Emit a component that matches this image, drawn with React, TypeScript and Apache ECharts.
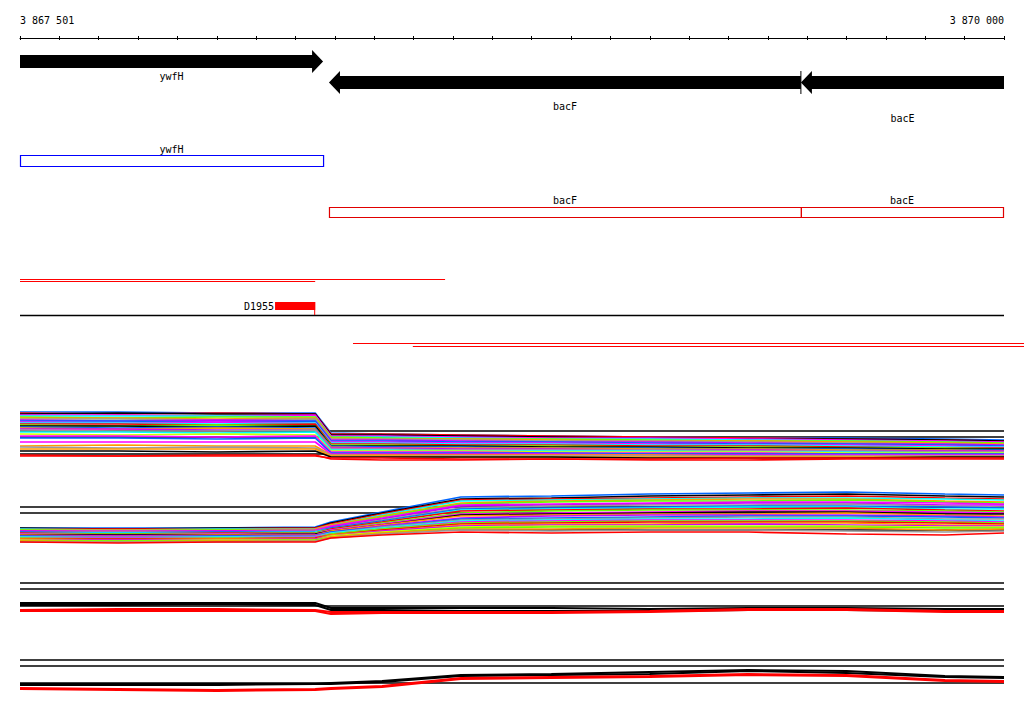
import React, { useEffect, useRef } from 'react';
import * as echarts from 'echarts';

// ---------- data ----------
const rangeStart = 3867500;
const rangeEnd = 3870000;
const tickStep = 100;
const rulerLabels = ['3 867 501', '3 870 000'];

const geneNames = ['ywfH', 'bacF', 'bacE'];
const geneStarts = [3867460, 3868285, 3869484];
const geneEnds = [3868270, 3869484, 3870150];
const geneStrands = [1, -1, -1];

const readStarts = [3867500, 3867500, 3868346, 3868498];
const readEnds = [3868580, 3868250, 3870051, 3870051];

const motifNames = ['D1955'];
const motifStarts = [3868148];
const motifEnds = [3868250];

const profilePositions = [3867500, 3867750, 3868000, 3868250, 3868290, 3868420, 3868620, 3868850, 3869100, 3869350, 3869600, 3869850, 3870000];
const refLevels = [45, 39, 22];

const panel1Profiles = [
  [64, 64, 63, 63, 43, 42, 41, 40, 39, 38, 38, 37, 36],
  [63, 62, 63, 62, 42, 42, 41, 40, 39, 38, 37, 36, 35],
  [62, 63, 62, 62, 41, 41, 40, 39, 38, 37, 37, 36, 35],
  [61, 61, 60, 61, 40, 40, 39, 38, 38, 37, 36, 35, 34],
  [60, 60, 60, 59, 39, 39, 38, 37, 37, 36, 35, 34, 33],
  [59, 58, 59, 59, 39, 38, 37, 37, 36, 35, 35, 34, 33],
  [58, 58, 57, 58, 38, 37, 37, 36, 35, 35, 34, 33, 32],
  [57, 57, 56, 57, 37, 37, 36, 35, 35, 34, 33, 32, 31],
  [56, 55, 56, 55, 36, 36, 35, 34, 34, 33, 32, 32, 31],
  [55, 55, 54, 55, 35, 35, 34, 34, 33, 32, 32, 31, 30],
  [54, 53, 54, 53, 34, 34, 33, 33, 32, 31, 31, 30, 29],
  [53, 53, 52, 53, 33, 33, 32, 32, 31, 31, 30, 29, 29],
  [52, 52, 51, 52, 32, 32, 31, 31, 30, 30, 29, 28, 28],
  [51, 50, 51, 50, 31, 31, 30, 30, 29, 29, 28, 28, 27],
  [50, 50, 49, 50, 30, 30, 30, 29, 29, 28, 28, 27, 27],
  [49, 48, 49, 48, 30, 29, 29, 28, 28, 27, 27, 26, 26],
  [48, 47, 48, 47, 29, 28, 28, 28, 27, 27, 26, 26, 25],
  [47, 47, 46, 46, 28, 28, 27, 27, 26, 26, 25, 25, 25],
  [46, 45, 45, 46, 27, 27, 26, 26, 26, 25, 25, 24, 24],
  [44, 44, 43, 44, 26, 26, 25, 25, 25, 24, 24, 23, 23],
  [42, 41, 42, 41, 25, 25, 25, 24, 24, 24, 23, 23, 23],
  [40, 40, 39, 40, 24, 24, 24, 23, 23, 23, 22, 22, 22],
  [38, 38, 37, 38, 23, 23, 23, 23, 22, 22, 22, 22, 22],
  [34, 34, 34, 34, 22, 22, 22, 22, 21, 21, 21, 21, 21],
  [30, 31, 30, 30, 21, 21, 21, 21, 21, 20, 20, 20, 20],
  [29, 28, 29, 28, 21, 20, 20, 20, 20, 20, 20, 20, 20],
  [27, 27, 27, 27, 20, 20, 19, 19, 19, 19, 19, 19, 19],
  [25, 25, 24, 25, 19, 19, 19, 19, 18, 18, 18, 19, 19],
  [21, 20, 20, 20, 18, 18, 17, 17, 17, 18, 18, 18, 18],
  [20, 20, 21, 21, 17, 16, 16, 17, 16, 16, 17, 17, 17],
];

const panel2Profiles = [
  [24, 24, 24, 25, 30, 40, 55, 56, 58, 59, 60, 58, 57],
  [24, 23, 24, 24, 29, 39, 53, 54, 56, 57, 58, 56, 55],
  [23, 23, 23, 24, 28, 38, 52, 53, 54, 55, 56, 54, 53],
  [23, 22, 23, 23, 27, 37, 51, 52, 53, 54, 54, 53, 52],
  [22, 22, 22, 23, 27, 36, 49, 51, 52, 53, 53, 51, 50],
  [22, 21, 22, 22, 26, 35, 48, 50, 51, 51, 52, 50, 49],
  [21, 21, 21, 22, 26, 34, 47, 48, 49, 50, 50, 49, 48],
  [21, 20, 21, 21, 25, 33, 46, 47, 48, 49, 49, 47, 47],
  [20, 20, 20, 21, 24, 32, 44, 46, 47, 47, 48, 46, 45],
  [20, 19, 20, 20, 24, 31, 43, 44, 45, 46, 46, 45, 44],
  [19, 19, 19, 20, 23, 30, 42, 43, 44, 45, 45, 43, 43],
  [19, 18, 19, 19, 23, 30, 41, 42, 43, 43, 44, 42, 41],
  [18, 18, 18, 19, 22, 29, 39, 41, 42, 42, 42, 41, 40],
  [18, 17, 18, 18, 22, 28, 38, 39, 40, 41, 41, 40, 39],
  [17, 17, 17, 18, 21, 27, 37, 38, 39, 40, 40, 38, 38],
  [17, 16, 17, 17, 21, 27, 36, 37, 38, 38, 39, 37, 36],
  [16, 16, 16, 17, 20, 26, 34, 36, 37, 37, 37, 36, 35],
  [16, 15, 16, 16, 20, 25, 33, 34, 35, 36, 36, 35, 34],
  [15, 15, 15, 16, 19, 25, 32, 33, 34, 35, 35, 33, 33],
  [15, 14, 15, 15, 19, 24, 31, 32, 33, 33, 34, 32, 31],
  [14, 14, 14, 15, 18, 23, 30, 31, 32, 32, 32, 31, 30],
  [14, 13, 14, 14, 18, 23, 29, 30, 31, 31, 31, 30, 29],
  [13, 13, 13, 14, 17, 22, 28, 29, 30, 30, 30, 29, 28],
  [13, 12, 13, 13, 17, 21, 27, 28, 28, 29, 29, 27, 27],
  [12, 12, 12, 13, 16, 21, 26, 27, 27, 28, 27, 26, 26],
  [12, 11, 12, 12, 16, 20, 25, 26, 26, 26, 26, 25, 25],
  [11, 11, 11, 12, 15, 19, 24, 25, 25, 25, 25, 24, 24],
  [11, 10, 11, 11, 15, 19, 23, 23, 24, 24, 24, 22, 23],
  [10, 10, 10, 11, 14, 18, 22, 21, 22, 22, 21, 20, 21],
  [10, 9, 10, 10, 14, 17, 20, 19, 20, 20, 18, 17, 19],
];

const panel3Profiles = [
  [25, 25, 25, 25, 20, 20, 20, 20, 19, 20, 20, 19, 19],
  [23, 23, 24, 23, 18, 18, 17, 17, 17, 18, 18, 17, 18],
  [18, 19, 19, 18, 16, 16, 16, 16, 17, 19, 19, 17, 17],
  [17, 17, 17, 17, 14, 15, 15, 15, 16, 18, 18, 16, 16],
];

const panel4Profiles = [
  [21, 21, 21, 21, 22, 24, 30, 31, 33, 35, 34, 29, 28],
  [20, 20, 20, 21, 21, 23, 29, 30, 31, 34, 32, 28, 27],
  [17, 16, 15, 16, 17, 19, 27, 28, 29, 31, 30, 25, 24],
  [16, 15, 14, 15, 16, 18, 26, 27, 28, 30, 29, 24, 23],
];

// ---------- styles ----------
const BLUE = '#0066ff', RED = '#ff0000', BLACK = '#000000', MAG = '#ff00ff', CYAN = '#00ffff',
  LIME = '#66ff00', ORANGE = '#ff9900', GRAY = '#999999', PURPLE = '#cc00ff', YELLOW = '#ccff00';

const panel1Colors = [BLUE, RED, BLACK, MAG, CYAN, LIME, ORANGE, GRAY, PURPLE, BLUE, MAG, CYAN, RED, LIME, BLACK,
  BLUE, ORANGE, PURPLE, GRAY, CYAN, YELLOW, MAG, BLUE, MAG, ORANGE, GRAY, ORANGE, BLACK, RED, RED];
const panel2Colors = [BLUE, BLACK, RED, CYAN, ORANGE, LIME, MAG, PURPLE, GRAY, BLUE, CYAN, RED, LIME, MAG, BLACK,
  ORANGE, PURPLE, BLUE, GRAY, CYAN, MAG, LIME, RED, ORANGE, PURPLE, YELLOW, LIME, ORANGE, GRAY, RED];
const panel34Colors = [BLACK, BLACK, RED, RED];

const FONT = '10px "DejaVu Sans Mono"';
const L = 20, R = 20;
const PANEL_TOPS = [400, 476, 552, 629];
const PANEL_H = 76;

function clampX(api: any, cs: any, v: number) {
  const x = api.coord([v, 0])[0];
  return Math.min(Math.max(x, cs.x), cs.x + cs.width);
}

function renderGeneArrow(params: any, api: any) {
  const cs = params.coordSys;
  const i = api.value(3);
  const x0 = clampX(api, cs, api.value(0));
  const x1 = clampX(api, cs, api.value(1));
  const fwd = api.value(2) > 0;
  const cy = fwd ? 61.5 : 82.5;
  const hb = 6.5, hh = 11.5, hw = 11;
  const pts = fwd
    ? [[x0, cy - hb], [x1 - hw, cy - hb], [x1 - hw, cy - hh], [x1, cy], [x1 - hw, cy + hh], [x1 - hw, cy + hb], [x0, cy + hb]]
    : [[x1, cy - hb], [x0 + hw, cy - hb], [x0 + hw, cy - hh], [x0, cy], [x0 + hw, cy + hh], [x0 + hw, cy + hb], [x1, cy + hb]];
  const labelY = [76, 106, 118][i];
  const children: any[] = [
    { type: 'polygon', shape: { points: pts }, style: { fill: '#000' } },
    { type: 'text', style: { text: geneNames[i], x: (x0 + x1) / 2, y: labelY, align: 'center', verticalAlign: 'middle', font: FONT, fill: '#000' } },
  ];
  if (!fwd && x1 < cs.x + cs.width - 1) {
    children.push({ type: 'line', shape: { x1: x1, y1: cy - hh, x2: x1, y2: cy + hh }, style: { stroke: '#000', lineWidth: 1 } });
  }
  return { type: 'group', children };
}

function renderGeneBox(params: any, api: any) {
  const cs = params.coordSys;
  const i = api.value(3);
  const x0 = clampX(api, cs, api.value(0));
  const x1 = Math.min(clampX(api, cs, api.value(1)), cs.x + cs.width - 1);
  const fwd = api.value(2) > 0;
  const top = fwd ? 155.5 : 207.5;
  const h = fwd ? 11 : 10;
  const labelY = fwd ? 149 : 200;
  return {
    type: 'group',
    children: [
      { type: 'rect', shape: { x: x0 + 0.5, y: top, width: x1 - x0, height: h }, style: { fill: 'none', stroke: fwd ? '#0000ff' : '#e00000', lineWidth: 1.2 } },
      { type: 'text', style: { text: geneNames[i], x: (x0 + x1) / 2, y: labelY, align: 'center', verticalAlign: 'middle', font: FONT, fill: '#000' } },
    ],
  };
}

function renderRead(params: any, api: any) {
  const i = params.dataIndex;
  const rowY = [279.5, 281.5, 343.5, 346.5][i];
  const x0 = api.coord([api.value(0), 0])[0];
  const x1 = api.coord([api.value(1), 0])[0];
  return { type: 'line', shape: { x1: x0, y1: rowY, x2: x1, y2: rowY }, style: { stroke: RED, lineWidth: 1 } };
}

function renderMotif(params: any, api: any) {
  const cs = params.coordSys;
  const i = params.dataIndex;
  const x0 = api.coord([api.value(0), 0])[0];
  const x1 = api.coord([api.value(1), 0])[0];
  return {
    type: 'group',
    children: [
      { type: 'line', shape: { x1: cs.x, y1: 315.5, x2: cs.x + cs.width, y2: 315.5 }, style: { stroke: '#000', lineWidth: 1.3 } },
      { type: 'rect', shape: { x: x0, y: 302, width: x1 - x0, height: 8 }, style: { fill: RED } },
      { type: 'line', shape: { x1: x1 - 0.5, y1: 302, x2: x1 - 0.5, y2: 315 }, style: { stroke: RED, lineWidth: 1 } },
      { type: 'text', style: { text: motifNames[i], x: x0 - 1, y: 306.5, align: 'right', verticalAlign: 'middle', font: FONT, fill: '#000' } },
    ],
  };
}

function buildOption() {
  const baseX = { type: 'value', min: rangeStart, max: rangeEnd, interval: tickStep, splitLine: { show: false } };
  const grids = [
    { left: L, right: R, top: 38, height: 20 },
    { left: L, right: R, top: 38, height: 20 },
    { left: L, right: R, top: 0, height: 400 },
    ...PANEL_TOPS.map((t) => ({ left: L, right: R, top: t, height: PANEL_H })),
  ].map((g) => ({ ...g, outerBoundsMode: 'none', containLabel: false, show: false }));

  const xAxis: any[] = [
    {
      ...baseX, gridIndex: 0, position: 'top',
      axisLine: { show: true, onZero: false, lineStyle: { color: '#000', width: 1 } },
      axisTick: { show: true, length: 2, lineStyle: { color: '#000', width: 1 } },
      axisLabel: {
        show: true, margin: 13, color: '#000', fontFamily: 'DejaVu Sans Mono', fontSize: 10,
        showMinLabel: true, showMaxLabel: true, alignMinLabel: 'left', alignMaxLabel: 'right',
        formatter: (v: number) => (v === rangeStart ? rulerLabels[0] : v === rangeEnd ? rulerLabels[1] : ''),
      },
    },
    {
      ...baseX, gridIndex: 1, position: 'top',
      axisLine: { show: false, onZero: false },
      axisTick: { show: true, inside: true, length: 2, lineStyle: { color: '#000', width: 1 } },
      axisLabel: { show: false },
    },
    ...[2, 3, 4, 5, 6].map((g) => ({ ...baseX, gridIndex: g, show: false })),
  ];

  const yAxis: any[] = [
    { type: 'value', gridIndex: 0, min: 0, max: 1, show: false },
    { type: 'value', gridIndex: 1, min: 0, max: 1, show: false },
    { type: 'value', gridIndex: 2, min: 0, max: 400, inverse: true, show: false },
    ...[3, 4, 5, 6].map((g) => ({ type: 'value', gridIndex: g, min: 0, max: PANEL_H, show: false })),
  ];

  const series: any[] = [];
  const geneData = geneStarts.map((s, i) => [s, geneEnds[i], geneStrands[i], i]);
  series.push({ type: 'custom', xAxisIndex: 2, yAxisIndex: 2, data: geneData, renderItem: renderGeneArrow, silent: true, clip: false });
  series.push({ type: 'custom', xAxisIndex: 2, yAxisIndex: 2, data: geneData, renderItem: renderGeneBox, silent: true, clip: false });
  series.push({ type: 'custom', xAxisIndex: 2, yAxisIndex: 2, data: readStarts.map((s, i) => [s, readEnds[i]]), renderItem: renderRead, silent: true, clip: false });
  series.push({ type: 'custom', xAxisIndex: 2, yAxisIndex: 2, data: motifStarts.map((s, i) => [s, motifEnds[i]]), renderItem: renderMotif, silent: true, clip: false });

  const panels = [
    { profiles: panel1Profiles, colors: panel1Colors, width: 1.7 },
    { profiles: panel2Profiles, colors: panel2Colors, width: 1.7 },
    { profiles: panel3Profiles, colors: panel34Colors, width: 2 },
    { profiles: panel4Profiles, colors: panel34Colors, width: 2 },
  ];
  panels.forEach((p, k) => {
    const axisIdx = 3 + k;
    refLevels.forEach((lv) => {
      series.push({
        type: 'line', xAxisIndex: axisIdx, yAxisIndex: axisIdx, data: [[rangeStart, lv], [rangeEnd, lv]],
        symbol: 'none', showSymbol: false, silent: true, z: 1, lineStyle: { color: '#000', width: 1.4 },
      });
    });
    p.profiles.forEach((vals, i) => {
      series.push({
        type: 'line', xAxisIndex: axisIdx, yAxisIndex: axisIdx,
        data: profilePositions.map((pos, j) => [pos, vals[j]]),
        symbol: 'none', showSymbol: false, silent: true, z: 2,
        lineStyle: { color: p.colors[i], width: p.width },
      });
    });
  });

  return {
    animation: false,
    backgroundColor: '#ffffff',
    grid: grids,
    xAxis,
    yAxis,
    series,
  };
}

export default function App() {
  const ref = useRef<HTMLDivElement>(null);
  useEffect(() => {
    if (!ref.current) return;
    const chart = echarts.init(ref.current, null, { renderer: 'svg' });
    chart.setOption(buildOption() as any);
    return () => chart.dispose();
  }, []);
  return (
    <div
      ref={ref}
      style={{ position: 'fixed', left: 0, top: 0, width: 1024, height: 714, background: '#fff' }}
    />
  );
}
